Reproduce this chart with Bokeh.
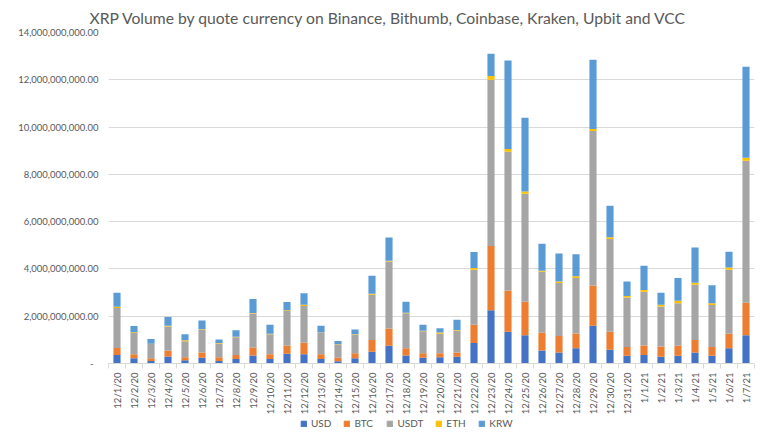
import math
from bokeh.plotting import figure
from bokeh.layouts import column
from bokeh.models import (ColumnDataSource, Range1d, FixedTicker, CustomJSTickFormatter,
                          Legend, LegendItem)
from bokeh.embed import file_html
from bokeh.resources import INLINE

dates = ["12/1/20", "12/2/20", "12/3/20", "12/4/20", "12/5/20", "12/6/20", "12/7/20",
         "12/8/20", "12/9/20", "12/10/20", "12/11/20", "12/12/20", "12/13/20", "12/14/20",
         "12/15/20", "12/16/20", "12/17/20", "12/18/20", "12/19/20", "12/20/20", "12/21/20",
         "12/22/20", "12/23/20", "12/24/20", "12/25/20", "12/26/20", "12/27/20", "12/28/20",
         "12/29/20", "12/30/20", "12/31/20", "1/1/21", "1/2/21", "1/3/21", "1/4/21",
         "1/5/21", "1/6/21", "1/7/21"]

# volumes in billions
usd = [0.36, 0.22, 0.11, 0.30, 0.14, 0.24, 0.11, 0.19, 0.34, 0.19,
       0.41, 0.39, 0.19, 0.10, 0.22, 0.50, 0.75, 0.34, 0.24, 0.26,
       0.29, 0.87, 2.25, 1.34, 1.19, 0.55, 0.46, 0.65, 1.60, 0.58,
       0.33, 0.36, 0.29, 0.33, 0.46, 0.33, 0.64, 1.20]
btc = [0.30, 0.17, 0.11, 0.25, 0.12, 0.22, 0.15, 0.17, 0.34, 0.20,
       0.35, 0.49, 0.20, 0.14, 0.21, 0.49, 0.73, 0.31, 0.19, 0.17,
       0.18, 0.77, 2.72, 1.75, 1.42, 0.75, 0.70, 0.62, 1.70, 0.76,
       0.37, 0.40, 0.43, 0.42, 0.53, 0.37, 0.62, 1.37]
usdt = [1.69, 0.90, 0.60, 1.02, 0.68, 0.97, 0.59, 0.75, 1.43, 0.85,
        1.46, 1.55, 0.90, 0.57, 0.79, 1.92, 2.83, 1.48, 0.93, 0.83,
        0.93, 2.32, 7.03, 5.87, 4.57, 2.58, 2.24, 2.35, 6.53, 3.93,
        2.09, 2.28, 1.69, 1.80, 2.34, 1.77, 2.70, 6.01]
eth = [0.05, 0.03, 0.02, 0.03, 0.04, 0.02, 0.02, 0.02, 0.03, 0.02,
       0.03, 0.05, 0.02, 0.02, 0.02, 0.04, 0.04, 0.02, 0.02, 0.05,
       0.02, 0.08, 0.16, 0.11, 0.09, 0.04, 0.07, 0.07, 0.09, 0.07,
       0.07, 0.07, 0.07, 0.10, 0.09, 0.08, 0.10, 0.12]
krw = [0.59, 0.27, 0.20, 0.37, 0.26, 0.37, 0.14, 0.28, 0.59, 0.38,
       0.35, 0.49, 0.29, 0.12, 0.20, 0.76, 0.98, 0.46, 0.26, 0.18,
       0.43, 0.68, 0.94, 3.75, 3.12, 1.15, 1.18, 0.93, 2.93, 1.33,
       0.61, 1.02, 0.51, 0.97, 1.49, 0.76, 0.67, 3.85]

series_names = ["USD", "BTC", "USDT", "ETH", "KRW"]
series_colors = ["#4472C4", "#ED7D31", "#A5A5A5", "#FFC000", "#5B9BD5"]
y_ticks = [0, 2e9, 4e9, 6e9, 8e9, 10e9, 12e9, 14e9]

B = 1e9
n = len(dates)
source = ColumnDataSource(dict(
    x=[i + 0.5 for i in range(n)],
    USD=[v * B for v in usd],
    BTC=[v * B for v in btc],
    USDT=[v * B for v in usdt],
    ETH=[v * B for v in eth],
    KRW=[v * B for v in krw],
))

TXT = "#595959"
FONT = "Lato"
W = 759
MAIN_H = 417
LEG_H = 12

p = figure(width=W, height=MAIN_H, output_backend="svg", toolbar_location=None, tools="",
           x_range=Range1d(0, n), y_range=Range1d(0, 14e9),
           min_border_left=108, min_border_right=5, min_border_top=32, min_border_bottom=46)

p.title.text = "XRP Volume by quote currency on Binance, Bithumb, Coinbase, Kraken, Upbit and VCC"
p.title.align = "left"
p.title.offset = -19
p.title.text_font = FONT
p.title.text_font_size = "15.7px"
p.title.text_font_style = "normal"
p.title.text_color = TXT
p.title.standoff = 11

renderers = p.vbar_stack(series_names, x="x", width=0.42, color=series_colors,
                         line_color=None, source=source)

p.outline_line_color = None
p.background_fill_color = "white"
p.border_fill_color = "white"

p.xgrid.grid_line_color = None
p.ygrid.grid_line_color = "#D9D9D9"
p.ygrid.grid_line_width = 1

# y axis
p.yaxis.ticker = FixedTicker(ticks=y_ticks)
p.yaxis.formatter = CustomJSTickFormatter(code="""
if (tick == 0) { return '-\u00a0\u00a0'; }
return tick.toLocaleString('en-US', {minimumFractionDigits: 2, maximumFractionDigits: 2});
""")
p.yaxis.axis_line_color = None
p.yaxis.major_tick_line_color = None
p.yaxis.major_tick_out = 0
p.yaxis.minor_tick_line_color = None
p.yaxis.major_label_text_font = FONT
p.yaxis.major_label_text_font_size = "9.5px"
p.yaxis.major_label_text_color = TXT
p.yaxis.major_label_standoff = 10

# x axis
p.xaxis.ticker = FixedTicker(ticks=[i + 0.5 for i in range(n)],
                             minor_ticks=list(range(n + 1)))
p.xaxis.formatter = CustomJSTickFormatter(args=dict(labels=dates),
                                          code="return labels[Math.floor(tick)];")
p.xaxis.axis_line_color = "#D9D9D9"
p.xaxis.major_tick_line_color = None
p.xaxis.major_tick_out = 0
p.xaxis.major_tick_in = 0
p.xaxis.minor_tick_line_color = "#D9D9D9"
p.xaxis.minor_tick_in = 0
p.xaxis.minor_tick_out = 5
p.xaxis.major_label_orientation = math.pi / 2
p.xaxis.major_label_standoff = 4
p.xaxis.axis_label_standoff = 0
p.xaxis.major_label_text_font = FONT
p.xaxis.major_label_text_font_size = "9.5px"
p.xaxis.major_label_text_color = TXT

# legend strip below the chart (frames are aligned by the column layout)
lf = figure(width=W, height=LEG_H, output_backend="svg", toolbar_location=None, tools="",
            x_range=Range1d(0, 1), y_range=Range1d(0, 1),
            x_axis_type=None, y_axis_type=None, min_border=0)
lf.outline_line_color = None
lf.grid.visible = False
leg_src = ColumnDataSource(dict(x=[-10.0], top=[0.0]))
leg_renderers = [lf.vbar(x="x", top="top", width=0.5, color=c, source=leg_src)
                 for c in series_colors]
legend = Legend(items=[LegendItem(label=nm, renderers=[r]) for nm, r in zip(series_names, leg_renderers)],
                orientation="horizontal", location=(192, 0),
                glyph_width=7, glyph_height=7, label_standoff=4, spacing=12,
                padding=0, margin=0, border_line_color=None, background_fill_alpha=0,
                label_text_font=FONT, label_text_font_size="10px", label_text_color=TXT,
                label_height=10)
lf.add_layout(legend, "center")

layout = column(p, lf, spacing=0)
open("out.html", "w").write(file_html(layout, INLINE))
